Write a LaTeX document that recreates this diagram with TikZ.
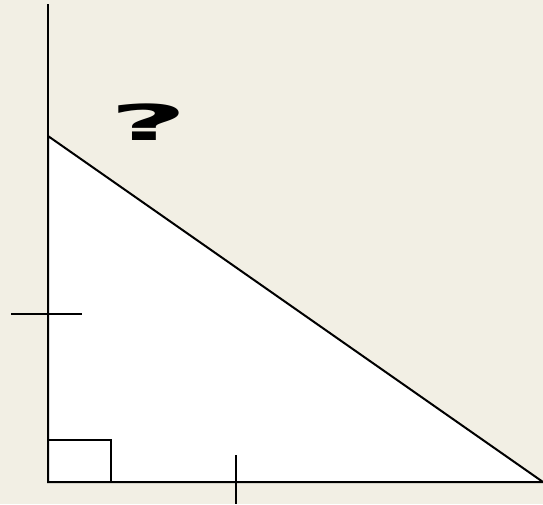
\documentclass[tikz,border=0pt]{standalone}
\usepackage{fontspec}
\newfontfamily\qfont{DejaVu Sans}
\usepackage{tikz}
\usetikzlibrary{calc}
\usepackage{xcolor}
\definecolor{paper}{RGB}{242,239,228}

\begin{document}
\begin{tikzpicture}[x=1pt,y=-1pt,line width=2pt]
\fill [paper] (0,0) rectangle (543,504);
\useasboundingbox (0,0) rectangle (543,504);
\coordinate (top) at (48,4);
\coordinate (a) at (48,136);
\coordinate (o) at (48,482);
\coordinate (b) at (543,482);
\filldraw [fill=white] (a) -- (o) -- (b) -- cycle;
\draw (top) -- (a);
% right angle and ticks
\coordinate (r1) at (48,440);
\coordinate (r2) at (111,440);
\draw (r1) -- (r2) -- (r2 |- o);
\coordinate (t1) at (11,314);
\coordinate (t2) at (82,314);
\draw (t1) -- (t2);
\coordinate (s1) at (236,455);
\coordinate (s2) at (236,504);
\draw (s1) -- (s2);
\node [xscale=2.6,yscale=0.95] (q) at (149,122) {\qfont\bfseries\fontsize{52}{52}\selectfont ?};
\end{tikzpicture}
\end{document}
